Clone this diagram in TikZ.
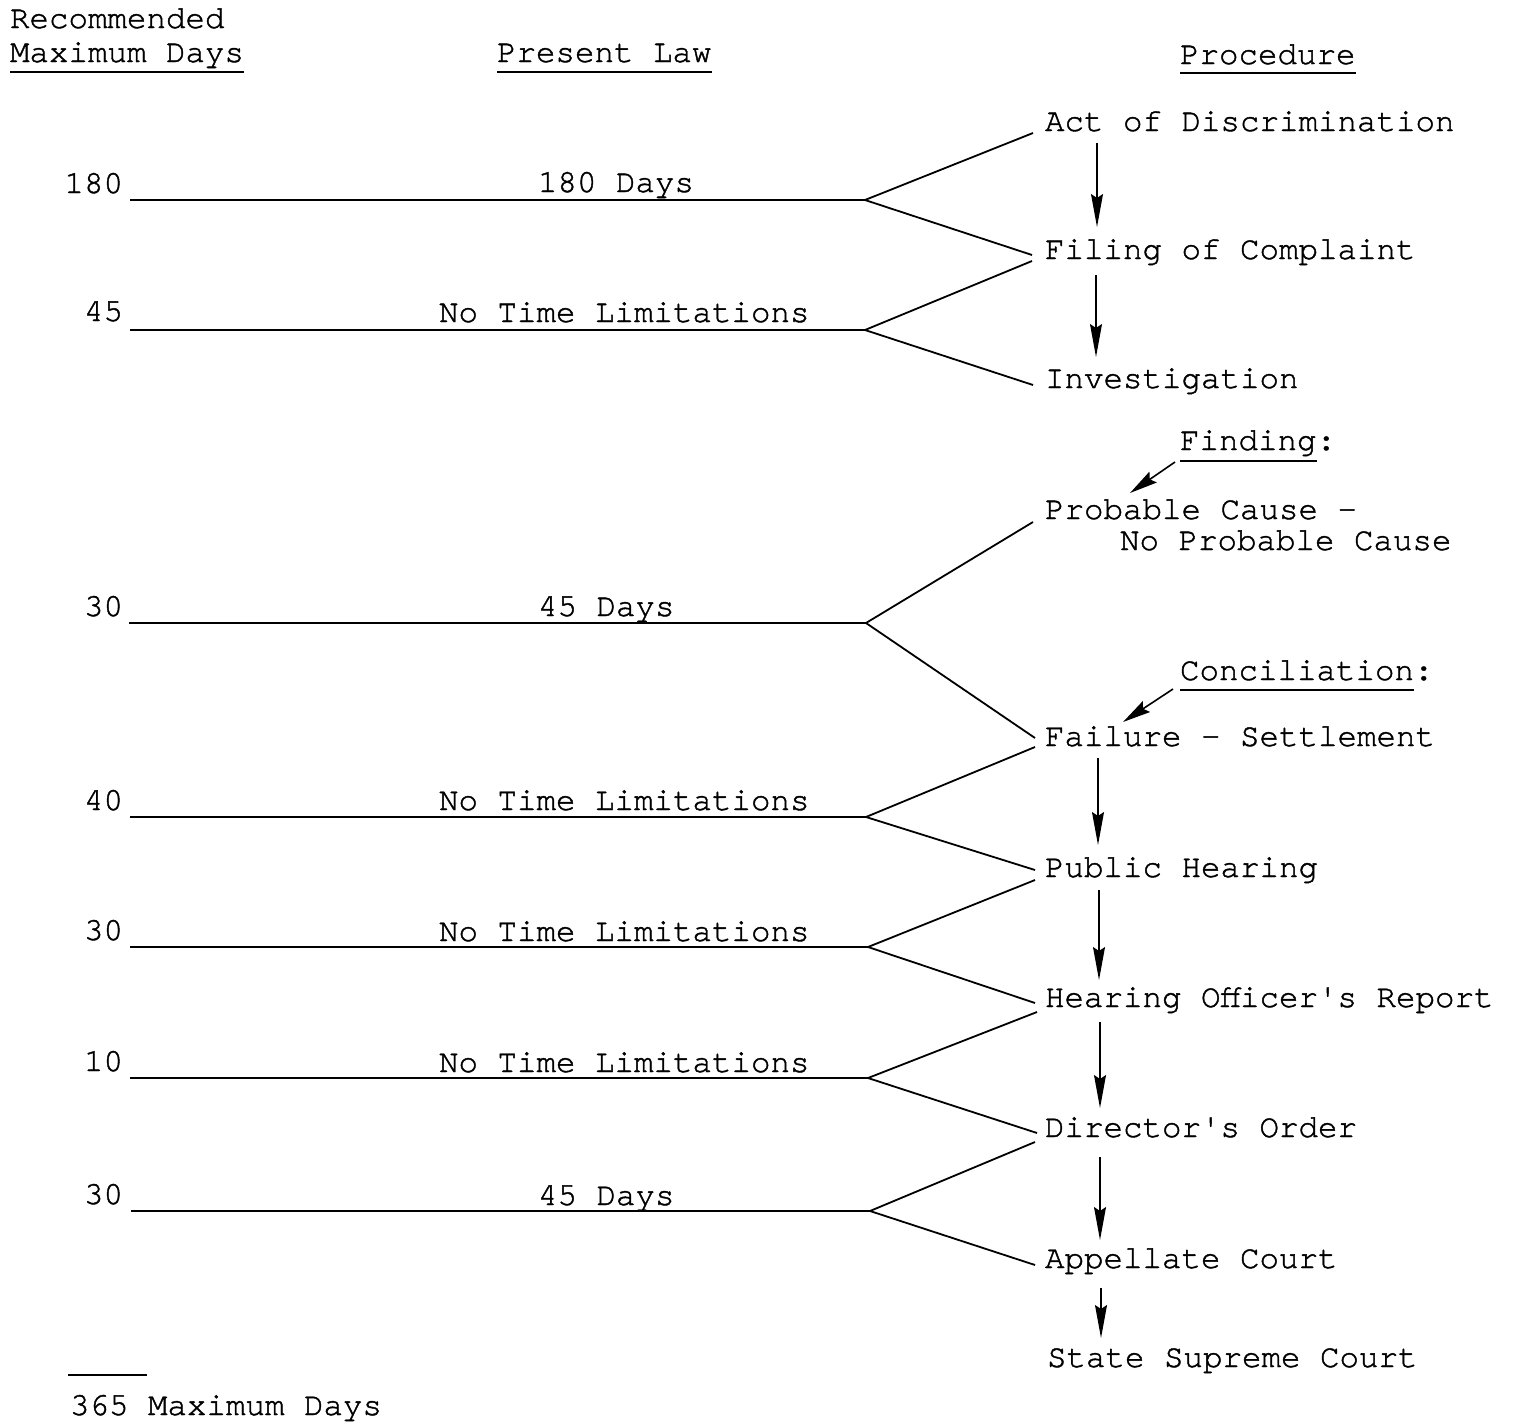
\documentclass[tikz,border=0pt]{standalone}
\usepackage{fontspec}
\setmonofont{TeX Gyre Cursor}[FakeBold=1.3]
\usetikzlibrary{arrows.meta,calc}
\begin{document}
\begin{tikzpicture}[x=1pt,y=-1pt,
  txt/.style={inner sep=0pt, outer sep=0pt, anchor=base west, font=\ttfamily\fontsize{32.5pt}{36pt}\selectfont},
  num/.style={txt, anchor=base east},
  rule/.style={line width=2pt},
  fork/.style={line width=1.8pt},
  flow/.style={line width=1.3pt, -{Stealth[length=33pt,width=12pt,inset=4pt]}},
  note/.style={line width=1.6pt, -{Stealth[length=28pt,width=13pt,inset=4pt]}},
  uline/.style={line width=2pt}]
\useasboundingbox (0,0) rectangle (1515,1424);

% headers
\node[txt] (rec) at (10,28) {Recommended};
\node[txt] (maxd) at (10,62) {Maximum Days};
\node[txt] (plaw) at (497,62) {Present Law};
\node[txt] (proc) at (1180,64) {Procedure};
\draw[uline] ([shift={(0,10)}]maxd.base west) -- ([shift={(0,10)}]maxd.base east);
\draw[uline] ([shift={(0,10)}]plaw.base west) -- ([shift={(0,10)}]plaw.base east);
\draw[uline] ([shift={(0,9)}]proc.base west) -- ([shift={(0,9)}]proc.base east);

% procedure column
\node[txt] (act) at (1045,131) {Act of Discrimination};
\node[txt] (fil) at (1045,259) {Filing of Complaint};
\node[txt] (inv) at (1045,388) {Investigation};
\node[txt] (find) at (1180,450) {Finding};
\node[txt] (findc) at (find.base east) {:};
\node[txt] (prob) at (1045,519) {Probable Cause -};
\node[txt] (noprob) at (1120,550) {No Probable Cause};
\node[txt] (conc) at (1180,680) {Conciliation};
\node[txt] (concc) at (conc.base east) {:};
\node[txt] (fail) at (1045,746) {Failure - Settlement};
\node[txt] (pub) at (1045,877) {Public Hearing};
\node[txt] (hear) at (1045,1007) {Hearing Officer's Report};
\node[txt] (dir) at (1045,1137) {Director's Order};
\node[txt] (app) at (1045,1268) {Appellate Court};
\node[txt] (ssc) at (1047,1367) {State Supreme Court};

\draw[uline] ([shift={(0,11)}]find.base west) -- ([shift={(0,11)}]find.base east);
\draw[uline] ([shift={(0,10)}]conc.base west) -- ([shift={(0,10)}]conc.base east);

% recommended numbers
\node[num] (n1) at (123,193) {180};
\node[num] (n2) at (123,321) {45};
\node[num] (n3) at (123,616) {30};
\node[num] (n4) at (123,810) {40};
\node[num] (n5) at (123,940) {30};
\node[num] (n6) at (123,1071) {10};
\node[num] (n7) at (123,1204) {30};

% present law labels
\node[txt] (l1) at (538,192) {180 Days};
\node[txt] (l2) at (439,322) {No Time Limitations};
\node[txt] (l3) at (538,616) {45 Days};
\node[txt] (l4) at (439,810) {No Time Limitations};
\node[txt] (l5) at (439,941) {No Time Limitations};
\node[txt] (l6) at (439,1072) {No Time Limitations};
\node[txt] (l7) at (538,1205) {45 Days};

% fork apexes
\coordinate (a1) at (865,200);
\coordinate (a2) at (865,330);
\coordinate (a3) at (866,623);
\coordinate (a4) at (866,817);
\coordinate (a5) at (868,947);
\coordinate (a6) at (868,1078);
\coordinate (a7) at (870,1211);

% horizontal lines
\draw[rule] ([xshift=7pt]n1.base east |- a1) -- (a1);
\draw[rule] ([xshift=7pt]n2.base east |- a2) -- (a2);
\draw[rule] ([xshift=6pt]n3.base east |- a3) -- (a3);
\draw[rule] ([xshift=7pt]n4.base east |- a4) -- (a4);
\draw[rule] ([xshift=7pt]n5.base east |- a5) -- (a5);
\draw[rule] ([xshift=7pt]n6.base east |- a6) -- (a6);
\draw[rule] ([xshift=8pt]n7.base east |- a7) -- (a7);

% forks
\draw[fork] ([shift={(-12,2)}]act.base west) -- (a1) -- ([shift={(-13,-4)}]fil.base west);
\draw[fork] ([shift={(-13,2)}]fil.base west) -- (a2) -- ([shift={(-12,-3)}]inv.base west);
\draw[fork] ([shift={(-12,3)}]prob.base west) -- (a3) -- ([shift={(-10,-8)}]fail.base west);
\draw[fork] ([shift={(-10,1)}]fail.base west) -- (a4) -- ([shift={(-10,-7)}]pub.base west);
\draw[fork] ([shift={(-10,3)}]pub.base west) -- (a5) -- ([shift={(-10,-4)}]hear.base west);
\draw[fork] ([shift={(-8,5)}]hear.base west) -- (a6) -- ([shift={(-8,-4)}]dir.base west);
\draw[fork] ([shift={(-10,5)}]dir.base west) -- (a7) -- ([shift={(-10,-3)}]app.base west);

% flow arrows
\draw[flow] ([shift={(52,12)}]act.base west) -- ([shift={(52,-32)}]fil.base west);
\draw[flow] ([shift={(51,16)}]fil.base west) -- ([shift={(51,-31)}]inv.base west);
\draw[flow] ([shift={(53,12)}]fail.base west) -- ([shift={(53,-32)}]pub.base west);
\draw[flow] ([shift={(54,13)}]pub.base west) -- ([shift={(54,-27)}]hear.base west);
\draw[flow] ([shift={(55,15)}]hear.base west) -- ([shift={(55,-29)}]dir.base west);
\draw[flow] ([shift={(55,20)}]dir.base west) -- ([shift={(55,-28)}]app.base west);
\draw[flow] ([shift={(56,20)}]app.base west) -- ([shift={(54,-29)}]ssc.base west);

% note arrows
\draw[note] ([shift={(-5,12)}]find.base west) -- ([shift={(85,-26)}]prob.base west);
\draw[note] ([shift={(-7,9)}]conc.base west) -- ([shift={(78,-24)}]fail.base west);

% total
\node[txt] (tot) at (70,1415) {365 Maximum Days};
\draw[uline] ([shift={(-2,-40)}]tot.base west) -- ([shift={(77,-40)}]tot.base west);
\end{tikzpicture}
\end{document}
